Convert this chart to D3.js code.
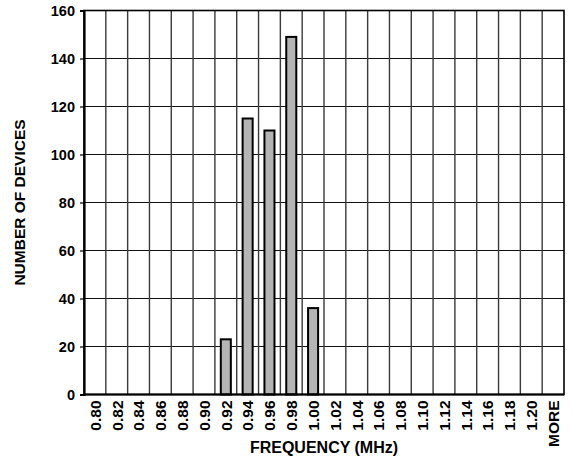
<!DOCTYPE html>
<html>
<head>
<meta charset="utf-8">
<script src="https://cdn.jsdelivr.net/npm/d3@7"></script>
<style>
  body { margin: 0; background: #fff; }
  text { font-family: "Liberation Sans", Arial, sans-serif; font-weight: bold; }
</style>
</head>
<body>
<div id="chart"></div>
<script>
// Histogram data
const categories = ["0.80", "0.82", "0.84", "0.86", "0.88", "0.90", "0.92", "0.94", "0.96", "0.98", "1.00",
  "1.02", "1.04", "1.06", "1.08", "1.10", "1.12", "1.14", "1.16", "1.18", "1.20", "MORE"];
const counts = [0, 0, 0, 0, 0, 0, 23, 115, 110, 149, 36, 0, 0, 0, 0, 0, 0, 0, 0, 0, 0, 0];
const yTicks = [0, 20, 40, 60, 80, 100, 120, 140, 160];

const width = 574;
const height = 462;
const margin = { top: 10.5, right: 10, bottom: 67.5, left: 84 };
const innerW = width - margin.left - margin.right;
const innerH = height - margin.top - margin.bottom;

const svg = d3.select("#chart")
  .append("svg")
  .attr("width", width)
  .attr("height", height);

const g = svg.append("g")
  .attr("transform", `translate(${margin.left},${margin.top})`);

const x = d3.scaleBand().domain(categories).range([0, innerW]).padding(0);
const y = d3.scaleLinear().domain([0, 160]).range([innerH, 0]);

// Horizontal grid
g.selectAll(".hgrid")
  .data(yTicks)
  .enter()
  .append("line")
  .attr("x1", 0)
  .attr("x2", innerW)
  .attr("y1", d => y(d))
  .attr("y2", d => y(d))
  .style("stroke", "#111")
  .style("stroke-width", 1.2);

// Vertical grid at bin boundaries
g.selectAll(".vgrid")
  .data(categories.slice(1))
  .enter()
  .append("line")
  .attr("x1", d => x(d))
  .attr("x2", d => x(d))
  .attr("y1", 0)
  .attr("y2", innerH)
  .style("stroke", "#3a3a3a")
  .style("stroke-width", 1.4);

// Bars
const data = categories.map((c, i) => ({ c: c, v: counts[i] }));
const barW = x.bandwidth() * 0.46;
g.selectAll(".bar")
  .data(data.filter(d => d.v > 0))
  .enter()
  .append("rect")
  .attr("x", d => x(d.c) + (x.bandwidth() - barW) / 2)
  .attr("y", d => y(d.v))
  .attr("width", barW)
  .attr("height", d => y(0) - y(d.v))
  .style("fill", "#b4b4b4")
  .style("stroke", "#000")
  .style("stroke-width", 2);

// Frame
g.append("rect")
  .attr("x", 0)
  .attr("y", 0)
  .attr("width", innerW)
  .attr("height", innerH)
  .style("fill", "none")
  .style("stroke", "#000")
  .style("stroke-width", 1.6);

g.append("line")
  .attr("x1", 0).attr("x2", innerW)
  .attr("y1", innerH).attr("y2", innerH)
  .style("stroke", "#000").style("stroke-width", 2.2);

// Y axis
const yAxis = g.append("g")
  .call(d3.axisLeft(y).tickValues(yTicks).tickSize(4).tickPadding(5));
yAxis.select(".domain").style("stroke", "#000").style("stroke-width", 2.2);
yAxis.selectAll(".tick line").style("stroke", "#000").style("stroke-width", 1.2);
yAxis.selectAll("text")
  .style("font-size", "14.5px")
  .style("font-family", "'Liberation Sans', Arial, sans-serif")
  .style("font-weight", "bold")
  .attr("fill", "#000");

// X tick labels (rotated)
g.selectAll(".xlabel")
  .data(categories)
  .enter()
  .append("text")
  .attr("transform", d => `translate(${x(d) + x.bandwidth() / 2 + 5.8},${innerH + 6}) rotate(-90)`)
  .style("text-anchor", "end")
  .style("font-size", "15.5px")
  .text(d => d);

// Axis titles
g.append("text")
  .attr("x", innerW / 2)
  .attr("y", innerH + 58)
  .style("text-anchor", "middle")
  .style("font-size", "16px")
  .text("FREQUENCY (MHz)");

g.append("text")
  .attr("transform", `translate(${25 - margin.left},${innerH / 2}) rotate(-90)`)
  .style("text-anchor", "middle")
  .style("font-size", "15.5px")
  .text("NUMBER OF DEVICES");
</script>
</body>
</html>
